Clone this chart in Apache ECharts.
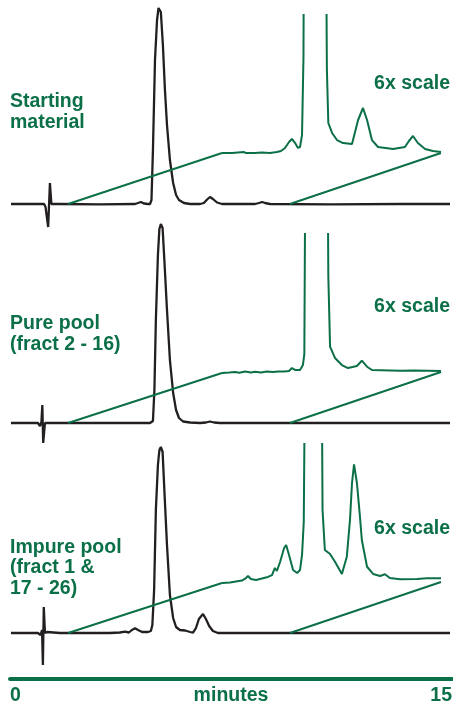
<!DOCTYPE html>
<html>
<head>
<meta charset="utf-8">
<script src="https://cdn.jsdelivr.net/npm/echarts@6/dist/echarts.min.js"></script>
<style>
html,body{margin:0;padding:0;background:#fff;}
#chart{width:453px;height:704px;}
</style>
</head>
<body>
<div id="chart"></div>
<script>
// ---- data ----
// Black traces: time (min) and signal
const blackT1 = [0,1.13,1.18,1.23,1.27,1.33,1.38,1.67,3.04,4.24,4.34,4.44,4.54,4.68,4.75,4.80,4.85,4.92,4.99,5.04,5.07,5.12,5.19,5.26,5.33,5.43,5.54,5.64,5.74,5.91,6.12,6.46,6.59,6.70,6.80,6.90,7.04,7.21,8.34,8.47,8.58,8.68,8.85,10.90,13.29,15];
const blackV1 = [0,0,-1.5,-0.5,-11.5,10.5,0,0,-0.15,0,0.5,1.0,0.25,0,0,2,27,72,92,98,98.5,96,79.5,57,39.5,22,10.5,4.5,2,0.5,0,0,0.5,2.25,3.5,2.5,0.75,0,0,0.5,1.0,0.5,0,-0.15,0,0];

const blackT2 = [0,0.92,0.99,1.04,1.07,1.10,1.16,3.04,4.75,4.85,4.90,4.95,5.02,5.07,5.12,5.18,5.24,5.33,5.43,5.54,5.64,5.74,5.88,6.12,6.46,6.66,6.80,6.94,7.14,15];
const blackV2 = [0,0,-1.5,0.5,9,-10,0,0,0,1,16.5,51.5,84,97,99.5,97.5,81.5,56.5,31.5,15,6.5,2.5,0.75,0.25,0,0.25,0.75,0.25,0,0];

const blackT3 = [0,0.92,1.01,1.06,1.09,1.12,1.16,1.23,1.67,3.38,3.72,3.90,4.03,4.13,4.24,4.34,4.48,4.68,4.78,4.83,4.89,4.95,5.02,5.07,5.12,5.18,5.24,5.33,5.43,5.54,5.64,5.77,5.95,6.12,6.22,6.32,6.42,6.56,6.66,6.77,6.90,7.07,15];
const blackV3 = [0,0,-1,1.5,-16,13,0,0.5,0,0,0.25,0.65,0.25,1.5,2.35,1.5,0.5,0.5,1,4,21.5,61.5,84,91.5,93,90.5,71.5,44,19,7.5,3,1.5,1.25,0.5,0.15,2.5,7,9.5,7,3.5,1,0,0];

// Green 6x-scale insets: time (min) and signal
const greenT1 = [1.95,2.30,2.71,2.78,3.09,3.33,3.61,3.85,3.99,4.13,4.27,4.37,4.48,4.58,4.65,4.72,4.77,4.80,5.06,5.50,5.58,5.63,5.76,5.93,6.14,6.45,6.66,6.83,6.97,7.14,7.35,7.87,8.28,8.42,8.56,8.73,8.98,9.25,9.53];
const greenV1 = [0,0,0.08,0,0,0.04,0,0.08,0.17,0.42,0.92,1.17,0.83,0.42,0.5,1.5,8,30,98.5,40,7,2.5,1.67,1.08,0.83,0.75,2.75,3.75,2.75,1.08,0.5,0.33,0.5,1.0,1.42,0.83,0.33,0.17,0.08];

const greenT2 = [1.95,2.20,2.40,2.55,2.75,2.95,3.10,3.30,3.50,3.70,3.90,4.10,4.27,4.37,4.48,4.65,4.75,4.80,4.86,5.07,5.55,5.63,5.69,5.86,6.10,6.31,6.62,6.79,6.97,7.14,8.11,8.60,9.53];
const greenV2 = [-0.08,-0.04,0,-0.06,0.04,-0.04,0.02,-0.04,0.04,0,0.04,0.04,0.08,0.33,0.17,0.17,0.58,1.5,30,99.5,40,8,2.11,1.17,0.58,0.33,0.5,0.94,0.44,0.17,0.11,0.13,0.08];

const greenT3 = [1.95,2.23,2.43,2.64,2.78,2.85,2.95,3.13,3.33,3.54,3.68,3.78,3.85,3.96,4.10,4.17,4.27,4.41,4.55,4.65,4.72,4.78,4.86,5.06,5.35,5.43,5.51,5.69,5.86,6.10,6.27,6.38,6.45,6.52,6.62,6.72,6.79,6.97,7.18,7.42,7.59,7.76,8.11,8.70,9.04,9.53];
const greenV3 = [-0.08,-0.04,0.04,0.12,0.33,0.5,0.25,0.17,0.29,0.42,0.58,1.17,0.92,1.67,2.83,3.08,2.25,1.0,0.75,1.0,2.25,5,30,93,40,6,2.67,2.33,1.69,0.67,2.11,5.17,8.25,9.81,8.25,5.58,3.5,1.27,0.67,0.5,0.64,0.33,0.22,0.25,0.31,0.31];

// Inset (zoom) window in minutes
const zoomStart = 1.95;
const zoomEnd = 9.53;

// Text
const panelLabels = ['Starting\nmaterial', 'Pure pool\n(fract 2 - 16)', 'Impure pool\n(fract 1 &\n17 - 26)'];
const scaleLabel = '6x scale';
const axisTicks = [0, 15];
const axisName = 'minutes';

// ---- chart ----
const GREEN = '#0b7047';
const BLACK = '#231f20';
const FAMILY = '"Liberation Sans", Arial, sans-serif';
const FONT = 'bold 19.5px ' + FAMILY;

const zip = (t, v) => t.map((x, i) => [x, v[i]]);
const blacks = [zip(blackT1, blackV1), zip(blackT2, blackV2), zip(blackT3, blackV3)];
const greens = [zip(greenT1, greenV1), zip(greenT2, greenV2), zip(greenT3, greenV3)];

const mainTops = [4, 223, 433];
const insetTops = [15, 234, 444];

const grids = [], xAxes = [], yAxes = [], series = [];
mainTops.forEach((top, i) => {
  grids.push({left: 11, right: 3, top: top, height: 240, containLabel: false, outerBoundsMode: 'none'});
  xAxes.push({type: 'value', gridIndex: i, min: 0, max: 15, show: false});
  yAxes.push({type: 'value', gridIndex: i, min: -20, max: 100, show: false});
});
insetTops.forEach((top, i) => {
  grids.push({left: 222, right: 12, top: top, height: 150, containLabel: false, outerBoundsMode: 'none'});
  xAxes.push({type: 'value', gridIndex: 3 + i, min: zoomStart, max: zoomEnd, show: false});
  yAxes.push({type: 'value', gridIndex: 3 + i, min: -1, max: 11.5, show: false});
});
// axis grid
grids.push({left: 10, right: 1, top: 600, height: 79, containLabel: false, outerBoundsMode: 'none'});
xAxes.push({
  type: 'value', gridIndex: 6, min: axisTicks[0], max: axisTicks[1], interval: axisTicks[1] - axisTicks[0],
  axisLine: {show: true, lineStyle: {color: GREEN, width: 4}},
  axisTick: {show: false}, splitLine: {show: false},
  axisLabel: {show: true, color: GREEN, fontSize: 19.5, fontWeight: 'bold', fontFamily: FAMILY, margin: 7, alignMinLabel: 'left', alignMaxLabel: 'right'},
  name: axisName, nameLocation: 'middle', nameGap: 7, nameMoveOverlap: false,
  nameTextStyle: {color: GREEN, fontSize: 19.5, fontWeight: 'bold', fontFamily: FAMILY, verticalAlign: 'top'}
});
yAxes.push({type: 'value', gridIndex: 6, show: false});

blacks.forEach((d, i) => {
  series.push({type: 'line', xAxisIndex: i, yAxisIndex: i, data: d, showSymbol: false, symbol: 'none',
    lineStyle: {color: BLACK, width: 2.3}, z: 3, clip: true});
});
greens.forEach((d, i) => {
  series.push({type: 'line', xAxisIndex: 3 + i, yAxisIndex: 3 + i, data: d, showSymbol: false, symbol: 'none',
    lineStyle: {color: GREEN, width: 2}, z: 4, clip: true});
});

const chart = echarts.init(document.getElementById('chart'), null, {renderer: 'canvas'});
chart.setOption({animation: false, backgroundColor: '#fff', grid: grids, xAxis: xAxes, yAxis: yAxes, series: series});

// labels + connector lines (endpoints from the library's scales)
const labelTops = [91.5, 313.5, 537];
const scaleTops = [74, 296.5, 519];
const graphics = [];
panelLabels.forEach((txt, i) => {
  graphics.push({type: 'text', style: {x: 10, y: labelTops[i], text: txt, font: FONT, fill: GREEN, lineHeight: 20.5, align: 'left', verticalAlign: 'top'}, z: 10});
  graphics.push({type: 'text', style: {x: 450, y: scaleTops[i], text: scaleLabel, font: FONT, fill: GREEN, align: 'right', verticalAlign: 'top'}, z: 10});
});
for (let i = 0; i < 3; i++) {
  const a1 = chart.convertToPixel({gridIndex: i}, [zoomStart, 0]);
  const b1 = chart.convertToPixel({gridIndex: 3 + i}, [zoomStart, greens[i][0][1]]);
  const a2 = chart.convertToPixel({gridIndex: i}, [zoomEnd, 0]);
  const b2 = chart.convertToPixel({gridIndex: 3 + i}, [zoomEnd, 0]);
  [[a1, b1], [a2, b2]].forEach(([a, b]) => {
    graphics.push({type: 'line', shape: {x1: a[0], y1: a[1], x2: b[0], y2: b[1]}, style: {stroke: GREEN, lineWidth: 2}, z: 5});
  });
}
chart.setOption({graphic: graphics});
</script>
</body>
</html>
